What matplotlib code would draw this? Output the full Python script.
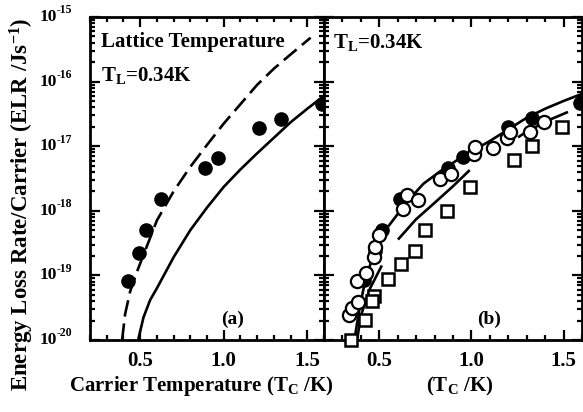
import matplotlib
matplotlib.use("Agg")
import matplotlib.pyplot as plt
import matplotlib.transforms as mtransforms
from matplotlib.ticker import FixedLocator, LogLocator, MultipleLocator, NullFormatter
import numpy as np

plt.rcParams['font.family'] = ['Liberation Serif', 'DejaVu Serif']
plt.rcParams['font.weight'] = 'bold'
plt.rcParams['mathtext.fontset'] = 'custom'
plt.rcParams['mathtext.rm'] = 'Liberation Serif:bold'
plt.rcParams['mathtext.bf'] = 'Liberation Serif:bold'
plt.rcParams['mathtext.it'] = 'Liberation Serif:bold'
plt.rcParams['lines.scale_dashes'] = False

# ---------------- data (x: T_C in K, y: log10 ELR) ----------------
# panel (a) measured points
a_pts_x = [0.425, 0.493, 0.533, 0.623, 0.888, 0.968, 1.213, 1.341, 1.59]
a_pts_y = [-19.09, -18.66, -18.29, -17.81, -17.33, -17.19, -16.72, -16.58, -16.34]
# panel (a) dashed curve
a_dash_x = [0.392, 0.41, 0.44, 0.48, 0.54, 0.60, 0.70, 0.80, 0.90, 1.00, 1.10, 1.20, 1.30, 1.40, 1.52]
a_dash_y = [-20.0, -19.6, -19.25, -18.95, -18.55, -18.15, -17.70, -17.32, -16.98, -16.65, -16.35, -16.05, -15.80, -15.58, -15.32]
# panel (a) solid curve
a_sol_x = [0.488, 0.52, 0.56, 0.60, 0.70, 0.80, 0.90, 1.00, 1.10, 1.20, 1.30, 1.40, 1.50, 1.60]
a_sol_y = [-20.0, -19.65, -19.38, -19.2, -18.72, -18.30, -17.95, -17.63, -17.36, -17.11, -16.87, -16.63, -16.42, -16.22]

# panel (b) filled circles
b_fill_x = [0.416, 0.479, 0.515, 0.611, 0.872, 0.953, 1.196, 1.326, 1.59]
b_fill_y = [-19.07, -18.62, -18.30, -17.81, -17.33, -17.17, -16.70, -16.57, -16.33]
# panel (b) open circles
b_open_x = [0.335, 0.353, 0.386, 0.380, 0.428, 0.470, 0.476, 0.497, 0.629, 0.650, 0.710, 0.831, 0.890,
            1.016, 1.020, 1.115, 1.195, 1.209, 1.317, 1.393]
b_open_y = [-19.61, -19.50, -19.41, -19.08, -18.97, -18.72, -18.56, -18.37, -17.97, -17.76, -17.84, -17.50, -17.43,
            -17.12, -17.02, -17.03, -16.88, -16.78, -16.78, -16.63]
# panel (b) open squares
b_sq_x = [0.344, 0.420, 0.470, 0.460, 0.546, 0.620, 0.695, 0.746, 0.870, 0.993, 1.232, 1.326, 1.494]
b_sq_y = [-20.0, -19.69, -19.32, -19.40, -19.05, -18.82, -18.63, -18.29, -18.01, -17.63, -17.21, -16.99, -16.70]
# panel (b) solid curve
b_sol_x = [0.365, 0.39, 0.42, 0.47, 0.52, 0.56, 0.65, 0.74, 0.83, 0.92, 1.00, 1.10, 1.20, 1.30, 1.40, 1.50, 1.60]
b_sol_y = [-20.0, -19.55, -19.13, -18.65, -18.35, -18.20, -17.86, -17.58, -17.39, -17.22, -17.08, -16.92, -16.74, -16.56, -16.42, -16.30, -16.19]
# panel (b) dashed curve
b_dash_x = [0.38, 0.398, 0.45, 0.515, 0.60, 0.70, 0.795, 0.90, 0.987, 1.10, 1.20, 1.281, 1.40, 1.524]
b_dash_y = [-20.0, -19.64, -19.20, -18.84, -18.45, -18.13, -17.89, -17.62, -17.38, -17.15, -16.96, -16.81, -16.62, -16.47]

yticks_exp = [-20, -19, -18, -17, -16, -15]
xticks = [0.5, 1.0, 1.5]
xticklabels = ['0.5', '1.0', '1.5']

# ---------------- figure ----------------
W, H = 583, 412
fig = plt.figure(figsize=(W / 100, H / 100), dpi=100)
ax1 = fig.add_axes([90 / W, 72 / H, 234 / W, 323 / H])
ax2 = fig.add_axes([324 / W, 72 / H, 258 / W, 323 / H])

def p(v):
    return [10.0 ** e for e in v]

LW = 1.9
MS = 9.5

for ax in (ax1, ax2):
    ax.set_yscale('log')
    ax.set_xlim(0.2, 1.6)
    ax.set_ylim(1e-20, 1e-15)
    for s in ax.spines.values():
        s.set_linewidth(2.0)
    ax.xaxis.set_major_locator(FixedLocator(xticks))
    ax.xaxis.set_minor_locator(MultipleLocator(0.1))
    ax.yaxis.set_major_locator(FixedLocator([10.0 ** e for e in yticks_exp]))
    ax.yaxis.set_minor_locator(LogLocator(base=10, subs=np.arange(2, 10), numticks=20))
    ax.yaxis.set_minor_formatter(NullFormatter())
    ax.yaxis.set_major_formatter(NullFormatter())
    ax.tick_params(which='both', direction='in', top=True, right=True, width=1.6)
    ax.tick_params(which='major', length=7)
    ax.tick_params(which='minor', length=3.5)
    ax.tick_params(axis='x', which='major', labelsize=15, pad=8)
    ax.set_xticklabels(xticklabels)

# y tick labels: "10" with a small raised exponent
ytr = ax1.get_yaxis_transform()
ytr_sup = mtransforms.offset_copy(ytr, fig=fig, x=0, y=0.5, units='points')
for e in yticks_exp:
    ax1.text(-0.142, 10.0 ** e, '10', transform=ytr, ha='right', va='center', fontsize=12.5)
    ax1.text(-0.142, 10.0 ** e, '-%d' % (-e), transform=ytr_sup, ha='left', va='bottom', fontsize=8.5)

# panel (a)
ax1.plot(a_dash_x, p(a_dash_y), color='black', lw=LW, dashes=(12, 5), zorder=2)
ax1.plot(a_sol_x, p(a_sol_y), color='black', lw=LW, zorder=2)
ax1.plot(a_pts_x, p(a_pts_y), 'o', color='black', ms=MS, zorder=3, clip_on=False)

# panel (b)
ax2.plot(b_sol_x, p(b_sol_y), color='black', lw=LW, zorder=2)
ax2.plot(b_dash_x, p(b_dash_y), color='black', lw=LW, dashes=(57, 22, 72, 42, 43, 10),
         dash_capstyle='butt', zorder=2)
ax2.plot(b_sq_x, p(b_sq_y), 's', mfc='white', mec='black', mew=1.8, ms=8.5, zorder=3, clip_on=False)
ax2.plot(b_fill_x, p(b_fill_y), 'o', color='black', ms=MS, zorder=4, clip_on=False)
ax2.plot(b_open_x, p(b_open_y), 'o', mfc='white', mec='black', mew=1.6, ms=MS, zorder=5)

# annotations
ax1.text(0.045, 0.955, 'Lattice Temperature', transform=ax1.transAxes, fontsize=15, va='top', ha='left')
ax1.text(0.045, 0.85, r'$\mathbf{T_L}$=0.34K', transform=ax1.transAxes, fontsize=15, va='top', ha='left')
ax1.text(0.61, 0.065, '(a)', transform=ax1.transAxes, fontsize=14, ha='center', va='center')
ax2.text(0.035, 0.955, r'$\mathbf{T_L}$=0.34K', transform=ax2.transAxes, fontsize=15, va='top', ha='left')
ax2.text(0.64, 0.065, '(b)', transform=ax2.transAxes, fontsize=14, ha='center', va='center')

fig.text(22 / W, 0.505, r'Energy Loss Rate/Carrier (ELR /Js$^{\mathbf{-1}}$)', rotation=90,
         ha='center', va='center', fontsize=16.5)
fig.text(201 / W, 1 - 386 / H, r'Carrier Temperature ($\mathbf{T_C}$ /K)', ha='center', va='center', fontsize=15)
fig.text(460 / W, 1 - 386 / H, r'($\mathbf{T_C}$ /K)', ha='center', va='center', fontsize=15)

fig.savefig('out.png', dpi=100)
